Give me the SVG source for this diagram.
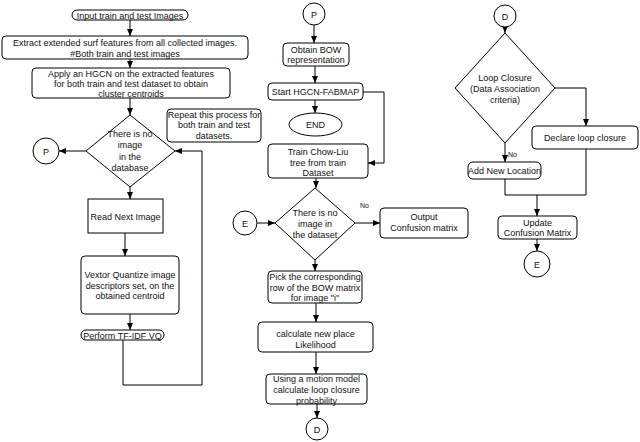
<svg xmlns="http://www.w3.org/2000/svg" width="640" height="442" viewBox="0 0 640 442">
<defs>
<marker id="ah" markerWidth="7" markerHeight="6" refX="7" refY="3" orient="auto" markerUnits="userSpaceOnUse">
<path d="M0,0 L7,3 L0,6 z" fill="#000"/>
</marker>
<style>
.b{fill:#fff;stroke:#000;stroke-width:1}
.c{fill:none;stroke:#000;stroke-width:1}
.a{fill:none;stroke:#000;stroke-width:1;marker-end:url(#ah)}
text{font-family:"Liberation Sans",Arial,sans-serif;font-size:9px;fill:#111;text-anchor:middle}
.s{font-size:7px;text-anchor:start}
</style>
</defs>
<rect width="640" height="442" fill="#fff"/>
<g id="connectors">
<line class="a" x1="130" y1="20" x2="130" y2="36"/>
<line class="a" x1="130" y1="59" x2="130" y2="68"/>
<line class="a" x1="130" y1="98" x2="130" y2="115"/>
<line class="a" x1="86" y1="151" x2="59" y2="151"/>
<line class="a" x1="130" y1="187" x2="130" y2="199"/>
<line class="a" x1="125" y1="233" x2="125" y2="256"/>
<line class="a" x1="130" y1="314" x2="130" y2="330"/>
<polyline class="a" points="123,340 123,385 202,385 202,151 175,151"/>
<line class="a" x1="314" y1="25" x2="314" y2="43"/>
<line class="a" x1="315" y1="66" x2="315" y2="83"/>
<line class="a" x1="315" y1="100" x2="315" y2="113"/>
<polyline class="a" points="363,92 384,92 384,163 368,163"/>
<line class="a" x1="316" y1="178" x2="316" y2="188"/>
<line class="a" x1="257" y1="223" x2="275" y2="223"/>
<line class="a" x1="355" y1="223" x2="380" y2="223"/>
<line class="a" x1="315" y1="260" x2="315" y2="271"/>
<line class="a" x1="316" y1="303" x2="316" y2="322"/>
<line class="a" x1="316" y1="352" x2="316" y2="374"/>
<line class="a" x1="317" y1="404" x2="317" y2="418"/>
<line class="a" x1="505" y1="27" x2="505" y2="33"/>
<polyline class="a" points="555,88 586,88 586,126"/>
<line class="a" x1="505" y1="143" x2="505" y2="162"/>
<polyline class="c" points="505,179 505,195 586,195 586,149"/>
<line class="a" x1="537" y1="195" x2="537" y2="216"/>
<line class="a" x1="537" y1="239" x2="537" y2="251"/>
<text class="s" x="360" y="208">No</text>
<text class="s" x="508" y="157">No</text>
</g>
<g id="input"><rect class="b" x="72" y="10" width="116" height="10" rx="5"/><text x="130" y="18.5">Input train and test Images</text></g>
<g id="extract"><rect class="b" x="2" y="36" width="246" height="23" rx="4"/><text x="125" y="46">Extract extended surf features from all collected images.</text><text x="125" y="56.5">#Both train and test images</text></g>
<g id="hgcn"><rect class="b" x="32" y="68" width="198" height="30" rx="4"/><text x="131" y="77">Apply an HGCN on the extracted features</text><text x="131" y="87">for both train and test dataset to obtain</text><text x="131" y="97">cluster centroids</text></g>
<g id="decision1"><polygon class="b" points="130,115 175,151 130,187 86,151"/><text x="130" y="137">There is no</text><text x="130" y="148">image</text><text x="130" y="160">in the</text><text x="130" y="171">database</text></g>
<g id="p1"><circle class="b" cx="46" cy="151" r="13"/><text x="46" y="154.5">P</text></g>
<g id="note"><rect class="b" x="167" y="109" width="94" height="33" rx="4"/><text x="214" y="118">Repeat this process for</text><text x="214" y="128">both train and test</text><text x="214" y="138.5">datasets.</text></g>
<g id="read"><rect class="b" x="88" y="199" width="75" height="34"/><text x="125.5" y="219.5">Read Next Image</text></g>
<g id="vq"><rect class="b" x="81" y="256" width="98" height="58" rx="4"/><text x="130" y="278">Vextor Quantize image</text><text x="130" y="289">descriptors set, on the</text><text x="130" y="299">obtained centroid</text></g>
<g id="tfidf"><rect class="b" x="81" y="330" width="83" height="10" rx="5"/><text x="122.5" y="338.5">Perform TF-IDF VQ</text></g>
<g id="p2"><circle class="b" cx="314" cy="14" r="11"/><text x="314" y="17.5">P</text></g>
<g id="bow"><rect class="b" x="283" y="43" width="66" height="23" rx="4"/><text x="316" y="52.5">Obtain BOW</text><text x="316" y="63">representation</text></g>
<g id="start"><rect class="b" x="268" y="83" width="95" height="17" rx="4"/><text x="315.5" y="95">Start HGCN-FABMAP</text></g>
<g id="end"><ellipse class="b" cx="315.5" cy="124.5" rx="26.5" ry="11.5"/><text x="315.5" y="128">END</text></g>
<g id="train"><rect class="b" x="268" y="144" width="100" height="34" rx="4"/><text x="318" y="155">Train Chow-Liu</text><text x="318" y="165.5">tree from train</text><text x="318" y="176">Dataset</text></g>
<g id="decision2"><polygon class="b" points="315,188 355,223 315,260 275,223"/><text x="315" y="216">There is no</text><text x="315" y="227">image in</text><text x="315" y="238">the dataset</text></g>
<g id="e1"><circle class="b" cx="245" cy="223" r="12"/><text x="245" y="226.5">E</text></g>
<g id="output"><rect class="b" x="380" y="208" width="88" height="30" rx="4"/><text x="424" y="220">Output</text><text x="424" y="230.5">Confusion matrix</text></g>
<g id="pick"><rect class="b" x="268" y="271" width="94" height="32" rx="4"/><text x="315" y="280">Pick the corresponding</text><text x="315" y="290.5">row of the BOW matrix</text><text x="315" y="301">for image "i"</text></g>
<g id="calc"><rect class="b" x="258" y="322" width="115" height="30" rx="4"/><text x="315.5" y="337">calculate new place</text><text x="315.5" y="348">Likelihood</text></g>
<g id="motion"><rect class="b" x="266" y="374" width="101" height="30" rx="4"/><text x="316.5" y="381.5">Using a motion model</text><text x="316.5" y="392.5">calculate loop closure</text><text x="316.5" y="403.5">probability</text></g>
<g id="d1"><circle class="b" cx="317" cy="429" r="11"/><text x="317" y="432.5">D</text></g>
<g id="d2"><circle class="b" cx="505" cy="16" r="11"/><text x="505" y="19.5">D</text></g>
<g id="decision3"><polygon class="b" points="505,33 555,88 505,143 455,88"/><text x="505" y="81">Loop Closure</text><text x="505" y="92">(Data Association</text><text x="505" y="103">criteria)</text></g>
<g id="declare"><rect class="b" x="532" y="126" width="106" height="23" rx="4"/><text x="585" y="140.5">Declare loop closure</text></g>
<g id="addloc"><rect class="b" x="468" y="162" width="73" height="17" rx="5"/><text x="504.5" y="174">Add New Location</text></g>
<g id="update"><rect class="b" x="498" y="216" width="79" height="23" rx="4"/><text x="537.5" y="225.5">Update</text><text x="537.5" y="236">Confusion Matrix</text></g>
<g id="e2"><circle class="b" cx="537" cy="264" r="13"/><text x="537" y="267.5">E</text></g>
</svg>
